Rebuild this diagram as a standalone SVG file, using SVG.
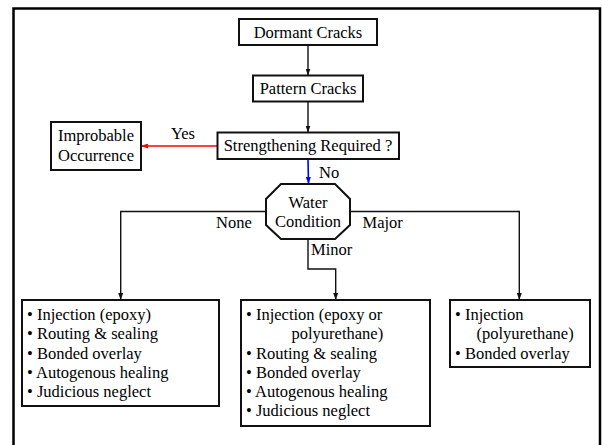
<svg xmlns="http://www.w3.org/2000/svg" width="602" height="445" viewBox="0 0 602 445">
<defs>
<style>
text{font-family:'Liberation Serif','DejaVu Serif',Times,serif;font-size:16.5px;fill:#000}
.c{text-anchor:middle}
.box{fill:#fff;stroke:#111;stroke-width:2}
.ln{fill:none;stroke:#111;stroke-width:1.4}
</style>
<marker id="ah" markerUnits="userSpaceOnUse" markerWidth="7" markerHeight="5" refX="7" refY="2.5" orient="auto"><path d="M0,0 L7,2.5 L0,5 z" fill="#111"/></marker>
<marker id="ahr" markerUnits="userSpaceOnUse" markerWidth="7" markerHeight="5" refX="7" refY="2.5" orient="auto"><path d="M0,0 L7,2.5 L0,5 z" fill="#ff0000"/></marker>
<marker id="ahb" markerUnits="userSpaceOnUse" markerWidth="7" markerHeight="5" refX="7" refY="2.5" orient="auto"><path d="M0,0 L7,2.5 L0,5 z" fill="#0000ff"/></marker>
</defs>
<path d="M13.5,446 V8.5 H600 V446" fill="none" stroke="#000" stroke-width="2.5"/>
<g font-family="Liberation Serif, DejaVu Serif, serif">
<g id="connectors">
<line class="ln" x1="308" y1="45" x2="308" y2="75.5" marker-end="url(#ah)"/>
<line class="ln" x1="308" y1="101.5" x2="308" y2="132.5" marker-end="url(#ah)"/>
<line x1="217.5" y1="146" x2="141" y2="146" stroke="#ff0000" stroke-width="1.6" marker-end="url(#ahr)"/>
<line x1="308" y1="159" x2="308.5" y2="184" stroke="#0000ff" stroke-width="1.6" marker-end="url(#ahb)"/>
<path class="ln" d="M266,211.5 H120.7 V300" marker-end="url(#ah)"/>
<path class="ln" d="M350,211.5 H519.3 V300" marker-end="url(#ah)"/>
<path class="ln" d="M308,239 V269 H335.7 V300" marker-end="url(#ah)"/>
<text x="183" y="138.5" class="c">Yes</text>
<text x="319" y="177.5">No</text>
<text x="216" y="227.5">None</text>
<text x="362.5" y="227.5">Major</text>
<text x="311" y="255">Minor</text>
</g>
<g id="dormant">
<rect class="box" x="239" y="19" width="138" height="26"/>
<text x="308" y="37.5" class="c">Dormant Cracks</text>
</g>
<g id="pattern">
<rect class="box" x="253" y="75.5" width="110" height="26"/>
<text x="308" y="94" class="c">Pattern Cracks</text>
</g>
<g id="strengthening">
<rect class="box" x="217.5" y="132.5" width="181.5" height="26.5"/>
<text x="308" y="151" class="c">Strengthening Required ?</text>
</g>
<g id="improbable">
<rect class="box" x="51" y="122" width="90" height="48"/>
<text x="96" y="140.5" class="c">Improbable</text>
<text x="96" y="160.5" class="c">Occurrence</text>
</g>
<g id="water">
<polygon class="box" points="281,184 335,184 350,199 350,225 335,239 281,239 266,225 266,199"/>
<text x="308" y="207.5" class="c">Water</text>
<text x="308" y="226.5" class="c">Condition</text>
</g>
<g id="none-box">
<rect class="box" x="22" y="300" width="197" height="106"/>
<text x="27" y="319.5">• Injection (epoxy)</text>
<text x="27" y="339">• Routing &amp; sealing</text>
<text x="27" y="358.5">• Bonded overlay</text>
<text x="27" y="377.8">• Autogenous healing</text>
<text x="27" y="397">• Judicious neglect</text>
</g>
<g id="minor-box">
<rect class="box" x="241" y="300" width="189" height="126"/>
<text x="246" y="319.5">• Injection (epoxy or</text>
<text x="291.5" y="339">polyurethane)</text>
<text x="246" y="358.5">• Routing &amp; sealing</text>
<text x="246" y="377.8">• Bonded overlay</text>
<text x="246" y="397">• Autogenous healing</text>
<text x="246" y="416">• Judicious neglect</text>
</g>
<g id="major-box">
<rect class="box" x="450" y="300" width="140" height="67"/>
<text x="455" y="319.5">• Injection</text>
<text x="476.5" y="339">(polyurethane)</text>
<text x="455" y="358.5">• Bonded overlay</text>
</g>
</g>
</svg>
